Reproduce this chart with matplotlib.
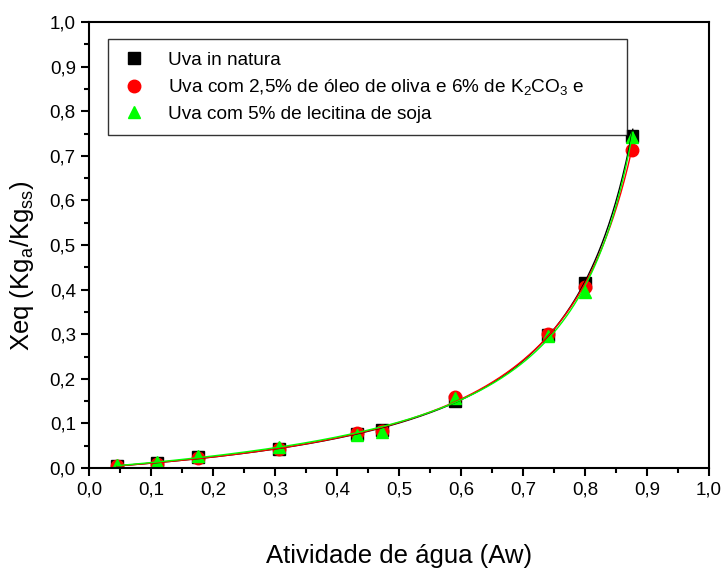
import numpy as np
import matplotlib.pyplot as plt
from matplotlib.ticker import FuncFormatter, MultipleLocator

plt.rcParams['font.family'] = ['Liberation Sans', 'DejaVu Sans']
plt.rcParams['mathtext.fontset'] = 'custom'
plt.rcParams['mathtext.rm'] = 'Liberation Sans'
plt.rcParams['mathtext.it'] = 'Liberation Sans'

# atividade de água medida
aw = [0.045, 0.11, 0.175, 0.307, 0.432, 0.473, 0.59, 0.74, 0.80, 0.875]

# umidade de equilíbrio (Kg água / Kg sólido seco)
xeq_natura = [0.005, 0.012, 0.025, 0.043, 0.077, 0.085, 0.150, 0.298, 0.415, 0.745]
xeq_oleo = [0.004, 0.010, 0.022, 0.042, 0.078, 0.083, 0.160, 0.300, 0.405, 0.712]
xeq_lecitina = [0.007, 0.013, 0.028, 0.046, 0.074, 0.080, 0.156, 0.297, 0.395, 0.742]

labels = ["Uva in natura",
          "Uva com 2,5% de óleo de oliva e 6% de K$_2$CO$_3$ e",
          "Uva com 5% de lecitina de soja"]


def gab(a, xm, c, k):
    return xm * c * k * a / ((1 - k * a) * (1 - k * a + c * k * a))


# ajuste do modelo GAB por busca em grade (mínimos quadrados)
def gab_fit(x, y):
    x = np.asarray(x)
    y = np.asarray(y)
    xm = np.linspace(0.02, 0.15, 66)[:, None, None, None]
    c = np.logspace(-0.7, 1.5, 80)[None, :, None, None]
    k = np.linspace(0.85, 1.13, 141)[None, None, :, None]
    with np.errstate(all="ignore"):
        pred = gab(x[None, None, None, :], xm, c, k)
        err = np.sum((pred - y) ** 2, axis=-1)
    err = np.where(np.isfinite(err), err, np.inf)
    i, j, l = np.unravel_index(np.argmin(err), err.shape)
    par = (xm.ravel()[i], c.ravel()[j], k.ravel()[l])
    xs = np.linspace(x.min(), x.max() + 0.002, 300)
    return xs, gab(xs, *par)


def virgula(v, pos):
    return "{:.1f}".format(v).replace(".", ",")


fig = plt.figure(figsize=(7.25, 5.72), dpi=100)
ax = fig.add_axes([0.1228, 0.1818, 0.8552, 0.7797])

series = [
    (xeq_natura, "black", "s", 8),
    (xeq_oleo, "#ff0000", "o", 9),
    (xeq_lecitina, "#00ff00", "^", 9),
]

for (y, cor, mk, ms), lab in zip(series, labels):
    ax.plot(aw, y, linestyle="none", marker=mk, color=cor, markersize=ms, label=lab)

for y, cor, mk, ms in series:
    xs, ys = gab_fit(aw, y)
    ax.plot(xs, ys, color=cor, linewidth=1)

ax.set_xlim(0, 1.0)
ax.set_ylim(0, 1.0)
ax.xaxis.set_major_locator(MultipleLocator(0.1))
ax.xaxis.set_minor_locator(MultipleLocator(0.05))
ax.yaxis.set_major_locator(MultipleLocator(0.1))
ax.yaxis.set_minor_locator(MultipleLocator(0.05))
ax.xaxis.set_major_formatter(FuncFormatter(virgula))
ax.yaxis.set_major_formatter(FuncFormatter(virgula))
ax.tick_params(which="major", direction="out", length=6, width=1.5, labelsize=13.5)
ax.tick_params(which="minor", direction="out", length=3.5, width=1.5)
for s in ax.spines.values():
    s.set_linewidth(1.5)

ax.set_xlabel("Atividade de água (Aw)", fontsize=18.5)
ax.set_ylabel("Xeq (Kg$_a$/Kg$_{ss}$)", fontsize=18.5)
ax.xaxis.set_label_coords(0.5, -0.17)
ax.yaxis.set_label_coords(-0.085, 0.453)

leg = ax.legend(loc="upper left", bbox_to_anchor=(0.03, 0.962, 0.837, 0.0),
                mode="expand", borderaxespad=0, fontsize=13.7,
                frameon=True, fancybox=False, edgecolor="black",
                handlelength=1.5, handletextpad=1.0, borderpad=0.65,
                labelspacing=0.45)
leg.get_frame().set_linewidth(1.0)

fig.savefig("out.png", dpi=100)
